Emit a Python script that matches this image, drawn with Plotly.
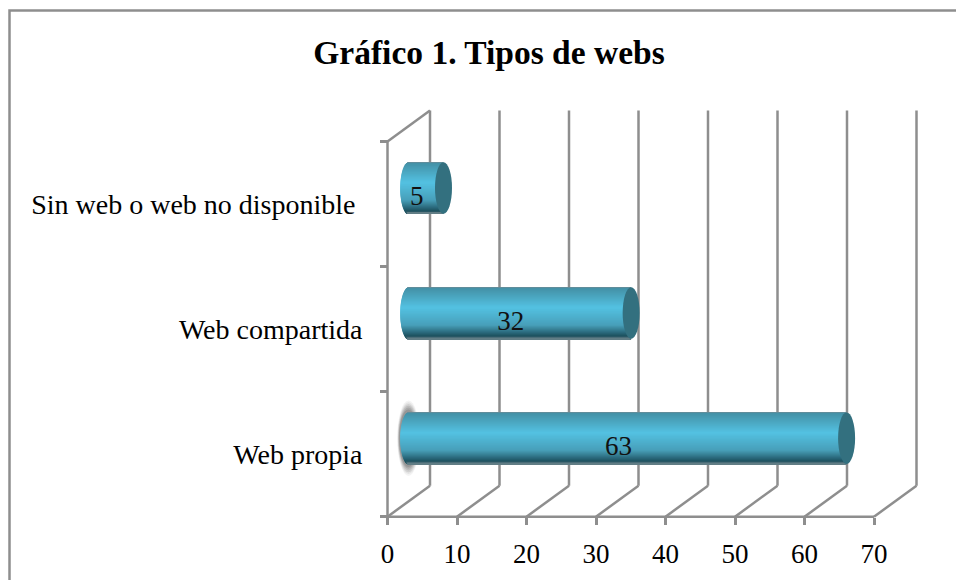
import math
import plotly.graph_objects as go

categories = ["Web propia", "Web compartida", "Sin web o web no disponible\u00a0"]
values = [63, 32, 5]
x_ticks = [0, 10, 20, 30, 40, 50, 60, 70]
title_text = "Gráfico 1. Tipos de webs"

# pixel scale of the chart
X0, Y0 = 387.5, 516.7
PX_X, PX_Y = 6.95, 125.1
W, H = 956, 580
DX, DY = 42.5 / PX_X, 31 / PX_Y        # depth of the 3D box
CX, CY = DX / 2, 16 / PX_Y             # bar offset into the box
BAR_H = 51.5 / PX_Y
CAP_A = 8.5 / PX_X
GRID = "#8e8e8e"
FONT = "Liberation Serif"
YMAX = 3.0
XMAX = 70

def lerp(c1, c2, t):
    return tuple(c1[i] + (c2[i] - c1[i]) * t for i in range(3))

STOPS = [(0.0, (110, 140, 150)), (0.03, (68, 146, 168)), (0.40, (84, 194, 226)),
         (0.74, (72, 160, 186)), (0.96, (28, 78, 92)), (1.0, (120, 140, 146))]

def grad(t):
    for (a, ca), (b, cb) in zip(STOPS, STOPS[1:]):
        if a <= t <= b:
            c = lerp(ca, cb, (t - a) / (b - a))
            return "rgb(%d,%d,%d)" % c
    return "rgb(82,190,222)"

shapes = []
def line(x0, y0, x1, y1, w=2.5):
    shapes.append(dict(type="line", xref="x", yref="y", x0=x0, y0=y0, x1=x1, y1=y1,
                       line=dict(color=GRID, width=w), layer="below"))

# frame
shapes.append(dict(type="rect", xref="paper", yref="paper", x0=9.5 / W, x1=1.02, y0=-0.02, y1=1 - 10.5 / H,
                   line=dict(color=GRID, width=2.5), fillcolor="rgba(0,0,0,0)", layer="below"))
# walls
for t in x_ticks:
    line(t, 0, t + DX, DY)
    line(t + DX, DY, t + DX, YMAX + DY)
line(0, 0, XMAX, 0)
line(0, 0, 0, YMAX)
line(0, YMAX, DX, YMAX + DY)

# soft shadow behind the left end of the longest bar
iy = values.index(max(values))
yc0 = iy + 0.5 + CY
for grow, op in [(1.0, 0.08), (0.85, 0.10), (0.7, 0.14), (0.55, 0.18), (0.4, 0.22), (0.25, 0.28)]:
    shapes.append(dict(type="circle", xref="x", yref="y", layer="below",
                       x0=CX - (9 + 2.5 * grow) / PX_X,
                       x1=CX + (8 + 3 * grow) / PX_X,
                       y0=yc0 - (BAR_H / 2 + grow * 12 / PX_Y),
                       y1=yc0 + (BAR_H / 2 + grow * 12 / PX_Y),
                       fillcolor="rgba(100,100,100,%.2f)" % op, line=dict(width=0)))

# cylinder bodies as gradient strips
fig = go.Figure()
N = 52
for i in range(N):
    mid = (i + 0.5) / N
    u = 2 * mid - 1
    inset = CAP_A * math.sqrt(max(0, 1 - u * u))
    ys = [k + 0.5 + CY + BAR_H / 2 - mid * BAR_H for k in range(len(values))]
    fig.add_trace(go.Bar(orientation="h", y=ys, x=[v + inset for v in values],
                         base=[CX - inset] * len(values), width=BAR_H / N * 1.6,
                         marker=dict(color=grad(mid), line=dict(width=0)),
                         showlegend=False, hoverinfo="skip", cliponaxis=False))

# end caps
for k, v in enumerate(values):
    yc = k + 0.5 + CY
    shapes.append(dict(type="circle", xref="x", yref="y", layer="above",
                       x0=v + CX - CAP_A, x1=v + CX + CAP_A,
                       y0=yc - BAR_H / 2, y1=yc + BAR_H / 2,
                       fillcolor="#33707f", line=dict(width=0)))

# data labels
fig.add_trace(go.Scatter(x=[v / 2 + 12 / PX_X for v in values],
                         y=[k + 0.5 + 6 / PX_Y for k in range(len(values))],
                         mode="text", text=[str(v) for v in values],
                         textposition="middle center",
                         textfont=dict(family=FONT, size=27, color="#111111"),
                         showlegend=False, hoverinfo="skip", cliponaxis=False))

fig.update_layout(
    width=W, height=H, autosize=False, margin=dict(l=0, r=0, t=0, b=0),
    paper_bgcolor="white", plot_bgcolor="rgba(0,0,0,0)", barmode="overlay",
    showlegend=False, shapes=shapes,
    title=dict(text="<b>%s</b>" % title_text, x=489 / W, xanchor="center", y=1 - 52.5 / H, yanchor="middle",
               font=dict(family=FONT, size=33.5, color="#000000")),
    xaxis=dict(domain=[0, 1], range=[-X0 / PX_X, (W - X0) / PX_X], anchor="free",
               position=(H - Y0) / H, tickmode="array", tickvals=x_ticks,
               ticktext=[str(t) for t in x_ticks], ticks="outside", ticklen=7, tickwidth=2.5,
               tickcolor=GRID, showgrid=False, zeroline=False, showline=False,
               tickfont=dict(family=FONT, size=27, color="#000000"), ticklabelstandoff=6),
    yaxis=dict(domain=[0, 1], range=[-(H - Y0) / PX_Y, Y0 / PX_Y], anchor="free",
               position=X0 / W, tickmode="array", tickvals=[k + 0.5 for k in range(len(values))],
               ticktext=categories, ticks="", showgrid=False, zeroline=False, showline=False,
               tickfont=dict(family=FONT, size=28, color="#000000"), ticklabelstandoff=25,
               minor=dict(tickmode="array", tickvals=[0, 1, 2, 3], ticks="outside", ticklen=8,
                          tickwidth=2.5, tickcolor=GRID, showgrid=False)),
)
fig.write_html("out.html", config=dict(displayModeBar=False),
               post_script="document.body.style.margin='0';document.documentElement.style.overflow='hidden';")
